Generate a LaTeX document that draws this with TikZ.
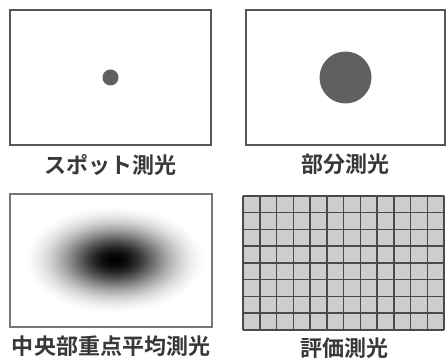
\documentclass[tikz,border=0pt]{standalone}
\usepackage{fontspec}
\newfontfamily\jpfont{Noto Sans CJK JP}[BoldFont={Noto Sans CJK JP Bold}]
\usepackage{tikz}
\usetikzlibrary{positioning, calc}
\definecolor{framegray}{HTML}{5A5452}
\definecolor{dotgray}{HTML}{606060}
\definecolor{cellgray}{HTML}{CDCDCD}
\definecolor{linegray}{HTML}{4A4A4A}
\definecolor{textgray}{HTML}{383838}
\tikzset{
    frame/.style={
        draw = framegray, line width = 1.8pt,
        minimum width = 201pt,
        minimum height = 135pt,
        inner sep = 0pt
    },
    caption/.style = {
        font = \jpfont\bfseries\fontsize{22pt}{22pt}\selectfont,
        text = textgray, inner sep = 0pt
    },
    cell/.style = {draw = linegray, line width = 1.4pt}
}
\begin{document}
\begin{tikzpicture}[x=1pt, y=1pt]
    \useasboundingbox (0,0) rectangle (446,359);

    % top row
    \node[frame] (spotbox) at (110.5,281.5) {};
    \node[frame, minimum width = 199pt] (partbox) at (345.5,281.5) {};
    \fill[dotgray] (spotbox.center) circle (8);
    \fill[dotgray] (partbox.center) circle (26);
    \node[caption, below = 8pt of spotbox] (spotlabel) {スポット測光};
    \node[caption, below = 8pt of partbox] (partlabel) {部分測光};

    % bottom row
    \node[frame, line width = 1.3pt, draw = framegray!80, minimum width = 202pt,
          minimum height = 133pt] (centerbox) at (111,98.5) {};
    \foreach \k in {0,...,60} {
        \pgfmathsetmacro{\f}{1-\k/61}
        \pgfmathsetmacro{\dark}{100*(exp(-(\f/0.6)^2)-0.062)/0.938}
        \fill[black!\dark] (115,99) ellipse [x radius = 90*\f, y radius = 53*\f];
    }
    \node[caption, below = 8pt of centerbox] (centerlabel) {中央部重点平均測光};

    \node[frame, draw = none, fill = cellgray, minimum width = 201pt,
          minimum height = 134pt] (gridbox) at (344.5,97) {};
    \foreach \i in {0,...,12}
        \draw[cell] ($(gridbox.south west)+(\i*16.75,0)$) -- ++(0,134);
    \foreach \j in {0,...,8}
        \draw[cell] ($(gridbox.south west)+(0,\j*16.75)$) -- ++(201,0);
    \node[caption, below = 8pt of gridbox] (gridlabel) {評価測光};

\end{tikzpicture}
\end{document}
